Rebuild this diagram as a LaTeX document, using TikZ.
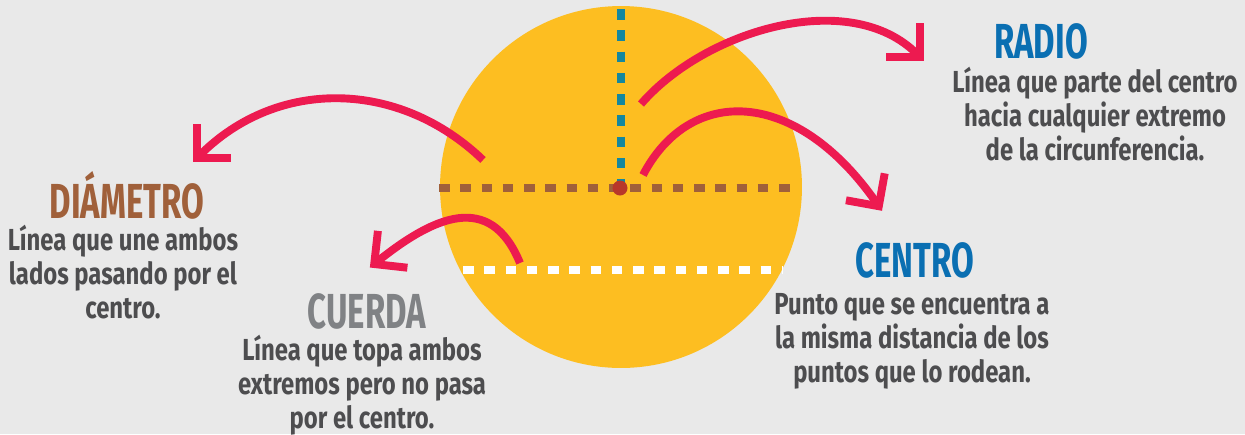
\documentclass[tikz,border=0pt]{standalone}
\usepackage{fontspec}
\usepackage{tikz}
\usetikzlibrary{arrows.meta,positioning}
\newfontfamily\bodyfont[FakeStretch=0.785]{Fira Sans}
\newfontfamily\titlefont[FakeStretch=0.67]{Fira Sans}
\definecolor{fondo}{HTML}{E9E9E9}
\definecolor{amarillo}{HTML}{FDBE21}
\definecolor{azul}{HTML}{14879F}
\definecolor{cafe}{HTML}{A0603A}
\definecolor{puntorojo}{HTML}{B8372A}
\definecolor{rosa}{HTML}{ED1A50}
\definecolor{gris}{HTML}{4D4D4F}
\definecolor{grisclaro}{HTML}{808285}
\definecolor{azultit}{HTML}{0A6FB2}

\begin{document}
\begin{tikzpicture}[x=0.02cm, y=-0.02cm,
    >={Straight Barb[angle=90:19pt, line cap=butt, line join=miter, sep=5pt]},
    flecha/.style={->, draw=rosa, line width=4.5pt},
    raya/.style={line width=4.6pt, dash pattern=on 6pt off 6.1pt},
    titulo/.style={font=\titlefont\bfseries\fontsize{28}{30}\selectfont, inner sep=0pt, anchor=base},
    texto/.style={font=\bodyfont\bfseries\fontsize{17.3}{19.4}\selectfont, text=gris, align=center, inner sep=0pt, anchor=north}]
    \useasboundingbox[fill=fondo] (0,0) rectangle (1245,434);

    % Circulo
    \node[circle, fill=amarillo, minimum size=7.24cm, inner sep=0pt] (disco) at (621,187) {};
    \draw[raya, azul] (621,9) -- (621,184);
    \draw[raya, cafe] (439,188) -- (792,188);
    \draw[raya, white] (463,270) -- (783,270);
    \node[circle, fill=puntorojo, minimum size=0.3cm, inner sep=0pt] (punto) at (620,188) {};

    % Flechas
    \coordinate (r0) at (641,104);  \coordinate (r1) at (930,67);
    \coordinate (c0) at (643,175);  \coordinate (c1) at (887,218);
    \coordinate (d0) at (483,160);  \coordinate (d1) at (187,168);
    \coordinate (q0) at (520,263);  \coordinate (q1) at (363,273);
    \draw[flecha] (r0) .. controls (705,30) and (850,-13) .. (r1);
    \draw[flecha] (c0) .. controls (690,85) and (796,87) .. (c1);
    \draw[flecha] (d0) .. controls (400,80) and (278,77) .. (d1);
    \draw[flecha] (q0) .. controls (490,190) and (433,217) .. (q1);

    % Textos
    \node[titulo, text=azultit] (radio) at (1041,58) {RADIO};
    \node[texto] (radiotxt) at (1095,67) {Línea que parte del centro\\hacia cualquier extremo\\de la circunferencia.};
    \node[titulo, text=azultit] (centro) at (915,277) {CENTRO};
    \node[texto] (centrotxt) at (912,293) {Punto que se encuentra a\\la misma distancia de los\\puntos que lo rodean.};
    \node[titulo, text=cafe] (diametro) at (127,218) {DIÁMETRO};
    \node[texto] (diametrotxt) at (123,225) {Línea que une ambos\\lados pasando por el\\centro.};
    \node[titulo, text=grisclaro] (cuerda) at (367,328) {CUERDA};
    \node[texto] (cuerdatxt) at (362,335) {Línea que topa ambos\\extremos pero no pasa\\por el centro.};
\end{tikzpicture}
\end{document}
